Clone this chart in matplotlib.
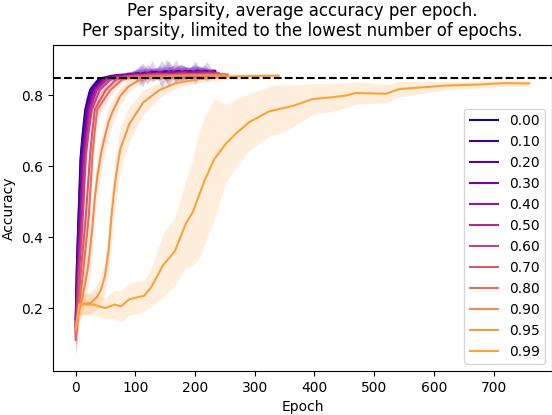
import matplotlib
matplotlib.use("Agg")
import matplotlib.pyplot as plt
import numpy as np

sparsities = [0.00, 0.10, 0.20, 0.30, 0.40, 0.50, 0.60, 0.70, 0.80, 0.90, 0.95, 0.99]

# mean accuracy and std per sparsity, sampled at the listed epochs
epochs_000 = [0, 2, 5, 8, 11, 16, 24, 38, 55, 70, 85, 95, 105, 112, 120, 128, 136, 144, 152, 160, 168, 176, 184, 192, 200, 208, 216, 224, 232]
mean_000 = [0.17, 0.32, 0.47, 0.62, 0.68, 0.76, 0.815, 0.845, 0.853, 0.856, 0.858, 0.86, 0.862, 0.858, 0.864, 0.861, 0.866, 0.86, 0.865, 0.868, 0.862, 0.867, 0.863, 0.869, 0.864, 0.866, 0.87, 0.865, 0.868]
std_000 = [0.05, 0.06, 0.06, 0.05, 0.04, 0.03, 0.015, 0.008, 0.006, 0.006, 0.007, 0.008, 0.012, 0.034, 0.01, 0.016, 0.009, 0.04, 0.011, 0.014, 0.024, 0.01, 0.017, 0.009, 0.032, 0.012, 0.015, 0.01, 0.008]

epochs_010 = [0, 2, 5, 9, 12, 17, 25, 40, 60, 75, 90, 100, 108, 116, 124, 132, 140, 148, 156, 164, 172, 180, 188, 196, 204, 212, 220, 228, 234]
mean_010 = [0.15, 0.31, 0.46, 0.63, 0.68, 0.76, 0.815, 0.845, 0.855, 0.857, 0.859, 0.862, 0.857, 0.865, 0.86, 0.867, 0.862, 0.868, 0.861, 0.866, 0.87, 0.863, 0.868, 0.865, 0.871, 0.864, 0.868, 0.866, 0.869]
std_010 = [0.05, 0.06, 0.06, 0.05, 0.04, 0.03, 0.015, 0.008, 0.006, 0.007, 0.008, 0.01, 0.03, 0.011, 0.015, 0.009, 0.02, 0.012, 0.038, 0.01, 0.016, 0.022, 0.009, 0.018, 0.011, 0.014, 0.028, 0.009, 0.008]

epochs_020 = [0, 3, 6, 10, 14, 18, 27, 42, 62, 80, 95, 104, 112, 120, 128, 136, 144, 152, 160, 168, 176, 184, 192, 200, 208, 216, 224, 232]
mean_020 = [0.14, 0.31, 0.46, 0.63, 0.69, 0.76, 0.815, 0.845, 0.855, 0.857, 0.86, 0.856, 0.863, 0.859, 0.866, 0.861, 0.864, 0.869, 0.862, 0.867, 0.864, 0.87, 0.863, 0.867, 0.865, 0.869, 0.864, 0.867]
std_020 = [0.05, 0.06, 0.06, 0.05, 0.04, 0.03, 0.015, 0.008, 0.006, 0.007, 0.009, 0.018, 0.01, 0.028, 0.012, 0.017, 0.01, 0.034, 0.013, 0.009, 0.026, 0.012, 0.018, 0.01, 0.019, 0.009, 0.012, 0.008]

epochs_030 = [0, 3, 7, 11, 15, 20, 29, 45, 65, 80, 95, 104, 112, 120, 128, 136, 144, 152, 160, 168, 176, 184, 192, 200, 208, 216, 224, 232]
mean_030 = [0.16, 0.31, 0.46, 0.63, 0.69, 0.76, 0.815, 0.845, 0.855, 0.858, 0.859, 0.864, 0.858, 0.862, 0.868, 0.86, 0.866, 0.862, 0.869, 0.864, 0.867, 0.862, 0.868, 0.866, 0.87, 0.863, 0.866, 0.868]
std_030 = [0.05, 0.06, 0.06, 0.05, 0.04, 0.03, 0.015, 0.008, 0.006, 0.007, 0.008, 0.013, 0.02, 0.01, 0.03, 0.014, 0.009, 0.021, 0.012, 0.036, 0.009, 0.019, 0.011, 0.023, 0.01, 0.014, 0.009, 0.007]

epochs_040 = [0, 4, 8, 13, 17, 22, 32, 48, 70, 85, 100, 110, 120, 130, 140, 150, 160, 170, 180, 190, 200, 210, 220, 232]
mean_040 = [0.13, 0.31, 0.46, 0.63, 0.69, 0.76, 0.815, 0.845, 0.855, 0.857, 0.86, 0.858, 0.864, 0.86, 0.866, 0.862, 0.867, 0.863, 0.868, 0.864, 0.866, 0.869, 0.865, 0.867]
std_040 = [0.05, 0.06, 0.06, 0.05, 0.04, 0.03, 0.015, 0.008, 0.006, 0.006, 0.008, 0.012, 0.017, 0.009, 0.019, 0.011, 0.02, 0.01, 0.016, 0.012, 0.018, 0.009, 0.012, 0.007]

epochs_050 = [0, 5, 10, 15, 19, 24, 35, 52, 75, 95, 115, 135, 155, 175, 195, 215, 240]
mean_050 = [0.14, 0.31, 0.46, 0.63, 0.69, 0.76, 0.815, 0.845, 0.853, 0.856, 0.858, 0.861, 0.859, 0.863, 0.861, 0.864, 0.862]
std_050 = [0.05, 0.06, 0.06, 0.05, 0.04, 0.03, 0.015, 0.008, 0.006, 0.007, 0.01, 0.013, 0.01, 0.022, 0.011, 0.01, 0.007]

epochs_060 = [0, 6, 12, 17, 21, 27, 40, 58, 80, 100, 120, 140, 160, 180, 200, 220, 240]
mean_060 = [0.12, 0.31, 0.46, 0.63, 0.69, 0.76, 0.815, 0.845, 0.853, 0.856, 0.858, 0.86, 0.859, 0.862, 0.86, 0.862, 0.861]
std_060 = [0.05, 0.06, 0.06, 0.05, 0.04, 0.03, 0.015, 0.008, 0.006, 0.007, 0.009, 0.012, 0.01, 0.014, 0.01, 0.009, 0.007]

epochs_070 = [0, 9, 17, 24, 28, 32, 50, 68, 90, 110, 130, 150, 170, 190, 210, 230, 250]
mean_070 = [0.11, 0.31, 0.46, 0.63, 0.70, 0.76, 0.815, 0.845, 0.853, 0.855, 0.857, 0.858, 0.858, 0.859, 0.859, 0.86, 0.86]
std_070 = [0.05, 0.06, 0.06, 0.05, 0.04, 0.03, 0.015, 0.008, 0.006, 0.006, 0.007, 0.008, 0.008, 0.008, 0.007, 0.006, 0.006]

epochs_080 = [0, 13, 22, 28, 32, 36, 58, 78, 100, 120, 140, 160, 180, 200, 220, 240, 255]
mean_080 = [0.12, 0.31, 0.46, 0.63, 0.70, 0.76, 0.815, 0.845, 0.852, 0.854, 0.856, 0.857, 0.857, 0.858, 0.858, 0.858, 0.859]
std_080 = [0.05, 0.06, 0.06, 0.05, 0.04, 0.03, 0.015, 0.008, 0.006, 0.006, 0.006, 0.006, 0.006, 0.006, 0.006, 0.006, 0.006]

epochs_090 = [0, 5, 10, 13, 16, 21, 24, 28, 32, 37, 43, 49, 55, 62, 74, 88, 107, 130, 160, 200, 250]
mean_090 = [0.14, 0.19, 0.22, 0.245, 0.27, 0.32, 0.365, 0.43, 0.51, 0.58, 0.64, 0.685, 0.725, 0.755, 0.797, 0.825, 0.844, 0.851, 0.855, 0.857, 0.858]
std_090 = [0.04, 0.04, 0.04, 0.045, 0.05, 0.055, 0.06, 0.06, 0.06, 0.055, 0.05, 0.045, 0.04, 0.035, 0.025, 0.018, 0.01, 0.008, 0.006, 0.006, 0.005]

epochs_095 = [0, 6, 25, 35, 42, 49, 55, 60, 65, 70, 75, 90, 113, 140, 168, 207, 252, 300, 340]
mean_095 = [0.14, 0.21, 0.215, 0.23, 0.25, 0.29, 0.36, 0.46, 0.54, 0.60, 0.65, 0.72, 0.78, 0.815, 0.835, 0.846, 0.853, 0.855, 0.856]
std_095 = [0.04, 0.03, 0.03, 0.035, 0.04, 0.05, 0.06, 0.07, 0.07, 0.065, 0.06, 0.05, 0.035, 0.022, 0.015, 0.01, 0.008, 0.006, 0.006]

epochs_099 = [0, 6, 30, 50, 65, 76, 90, 115, 127, 146, 166, 185, 196, 207, 216, 232, 252, 270, 291, 324, 341, 363, 397, 430, 453, 469, 520, 542, 564, 620, 676, 720, 760]
mean_099 = [0.14, 0.21, 0.21, 0.20, 0.21, 0.205, 0.225, 0.235, 0.26, 0.32, 0.36, 0.44, 0.47, 0.52, 0.56, 0.62, 0.665, 0.695, 0.725, 0.755, 0.762, 0.77, 0.79, 0.795, 0.80, 0.807, 0.805, 0.818, 0.821, 0.828, 0.831, 0.835, 0.834]
std_099 = [0.04, 0.03, 0.03, 0.03, 0.04, 0.045, 0.045, 0.045, 0.055, 0.09, 0.095, 0.125, 0.15, 0.18, 0.18, 0.17, 0.11, 0.095, 0.08, 0.07, 0.068, 0.06, 0.043, 0.04, 0.035, 0.032, 0.026, 0.022, 0.02, 0.012, 0.01, 0.009, 0.009]

all_epochs = [epochs_000, epochs_010, epochs_020, epochs_030, epochs_040, epochs_050,
              epochs_060, epochs_070, epochs_080, epochs_090, epochs_095, epochs_099]
all_means = [mean_000, mean_010, mean_020, mean_030, mean_040, mean_050,
             mean_060, mean_070, mean_080, mean_090, mean_095, mean_099]
all_stds = [std_000, std_010, std_020, std_030, std_040, std_050,
            std_060, std_070, std_080, std_090, std_095, std_099]

target_acc = 0.85

fig = plt.figure(figsize=(5.52, 4.15), dpi=100)
ax = fig.add_axes([0.096, 0.106, 0.904, 0.786])

cmap = plt.get_cmap("plasma")
for s, ep, m, sd in zip(sparsities, all_epochs, all_means, all_stds):
    color = cmap(s * 0.8)
    m = np.array(m)
    sd = np.array(sd)
    ax.plot(ep, m, color=color, label=f"{s:.2f}", linewidth=1.5)
    ax.fill_between(ep, m - sd, m + sd, color=color, alpha=0.18, linewidth=0)

ax.axhline(target_acc, color="black", linestyle="--", linewidth=1.5)

ax.set_xlim(-38, 798)
ax.set_ylim(0.0225, 0.943)
ax.set_xticks([0, 100, 200, 300, 400, 500, 600, 700])
ax.set_yticks([0.2, 0.4, 0.6, 0.8])
ax.set_xlabel("Epoch")
ax.set_ylabel("Accuracy")
ax.set_title("Per sparsity, average accuracy per epoch.\nPer sparsity, limited to the lowest number of epochs.")
ax.legend(loc="lower right")

fig.savefig("out.png", dpi=100)
